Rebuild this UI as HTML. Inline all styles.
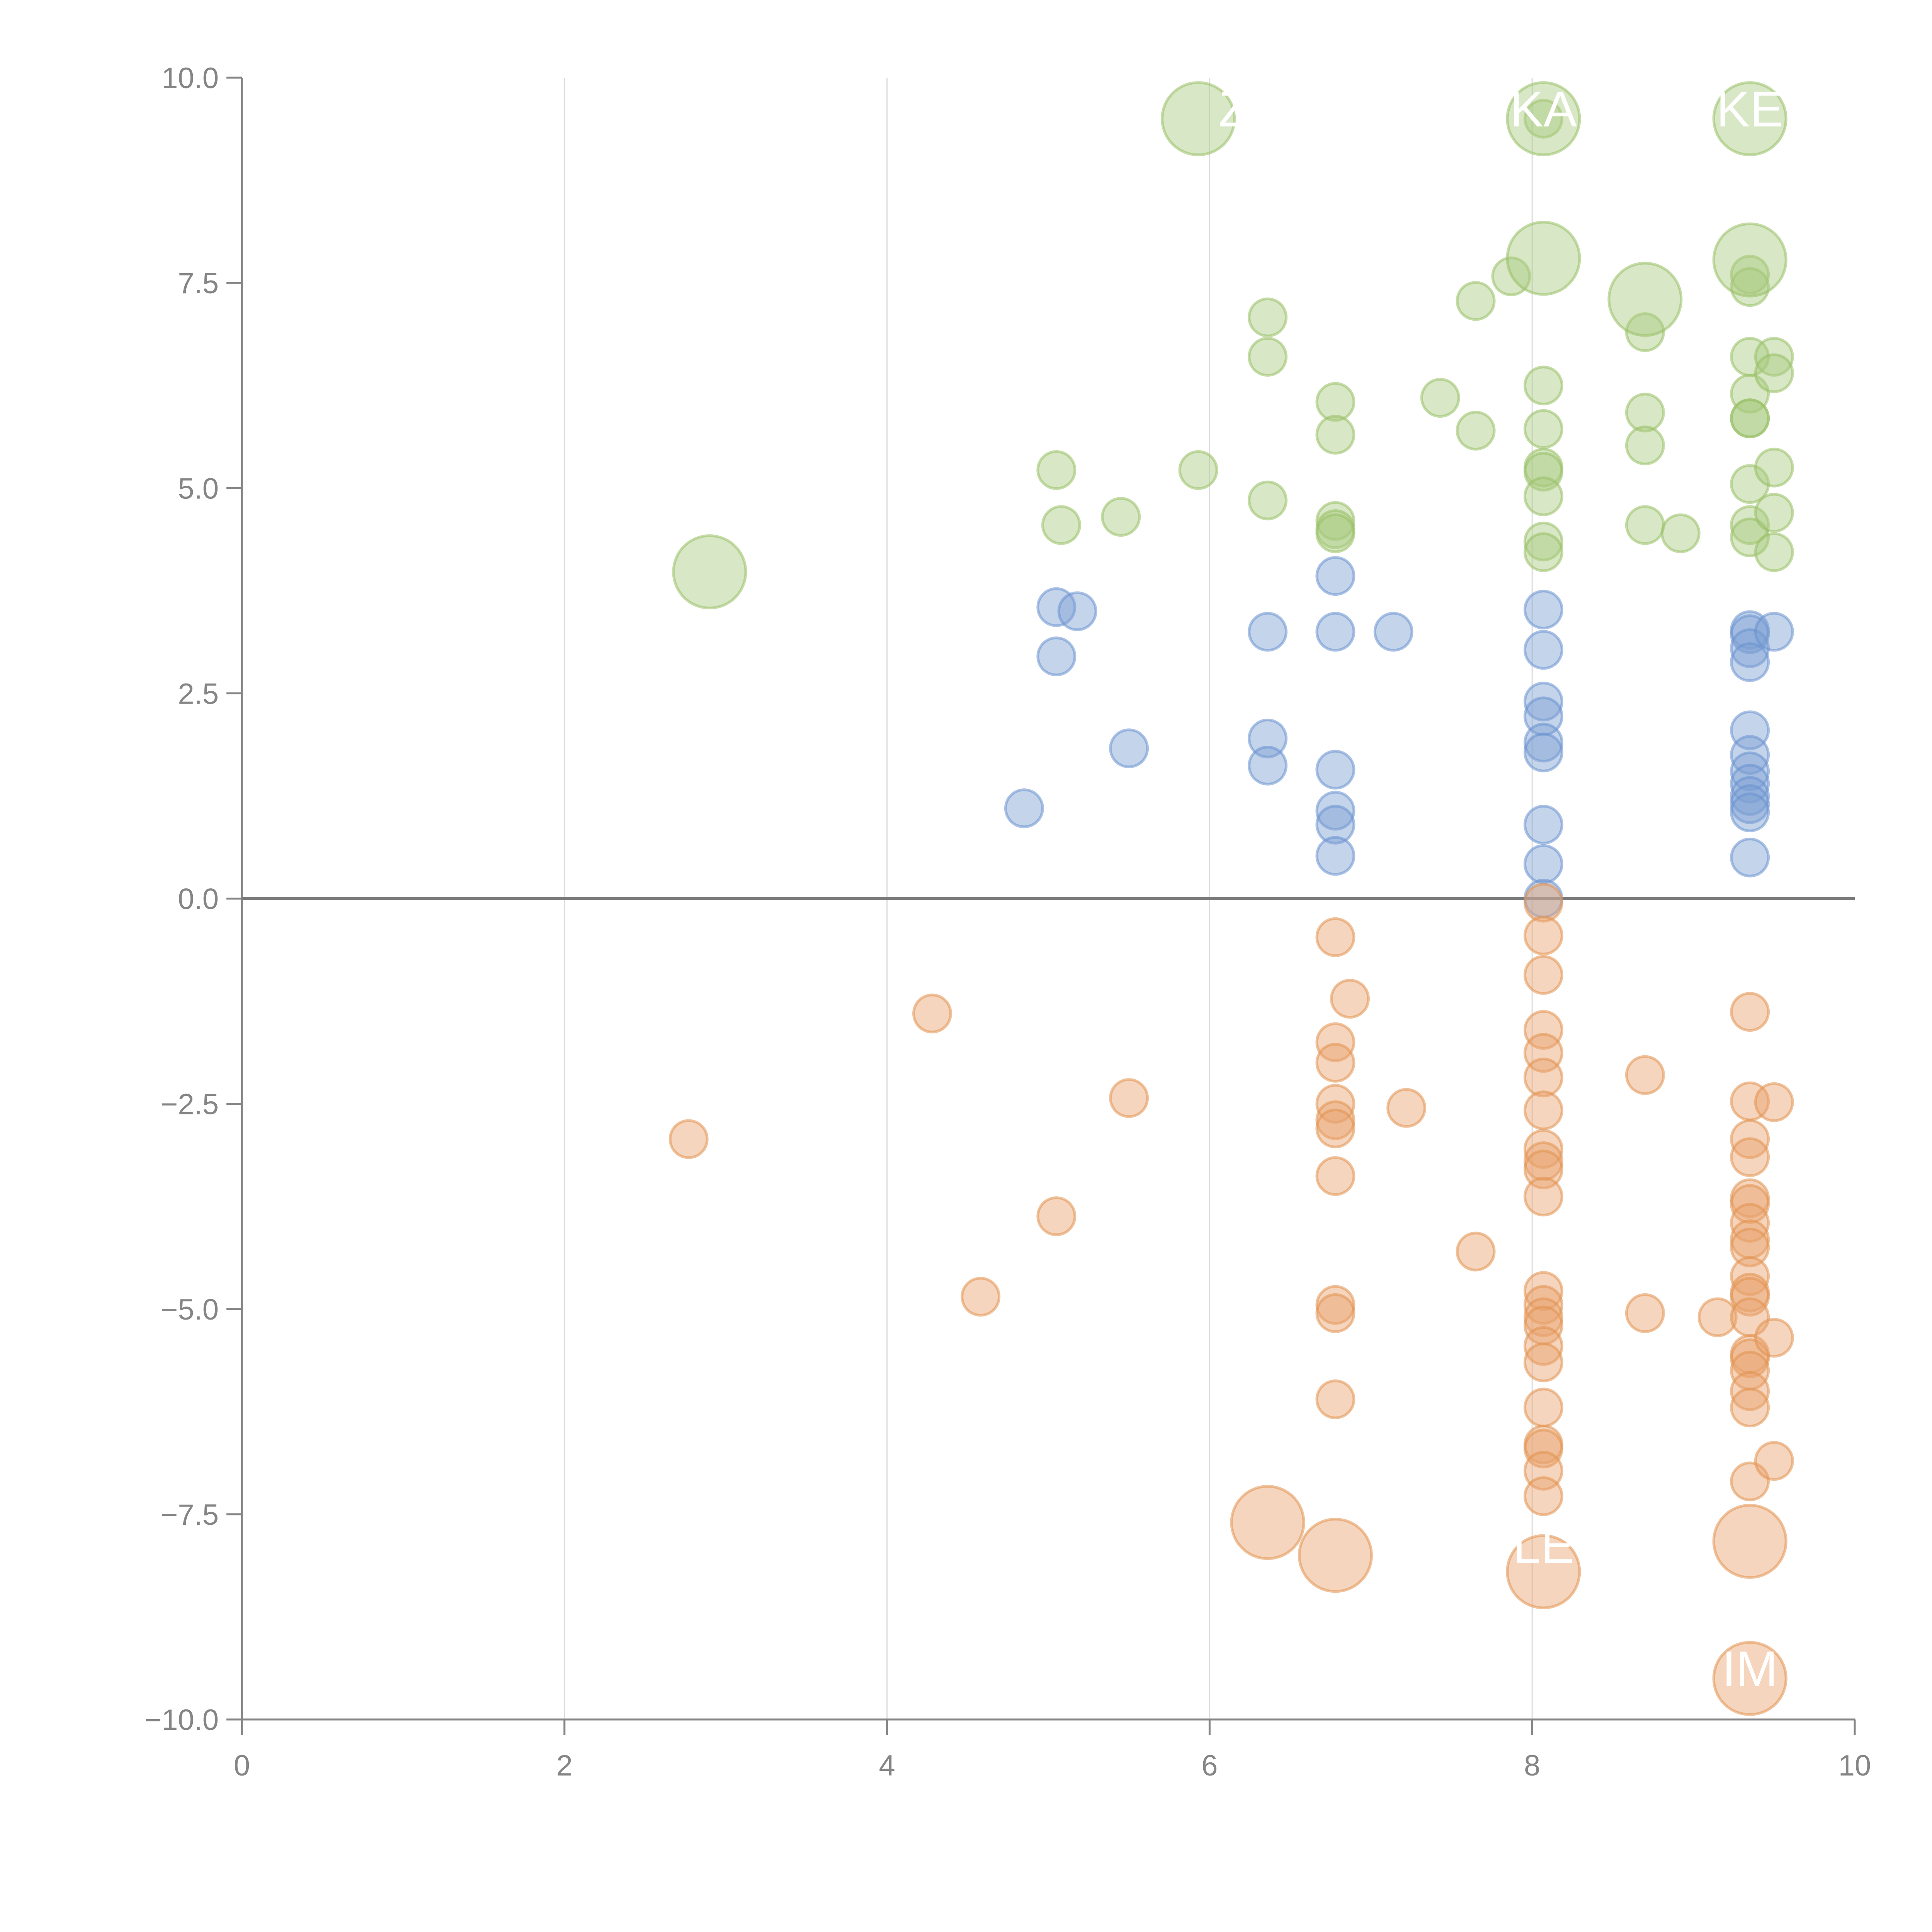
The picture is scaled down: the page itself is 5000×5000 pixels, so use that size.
<!DOCTYPE html>
<html><head><meta charset="utf-8"><style>
html,body{margin:0;padding:0;background:#fff;}
svg{display:block;font-family:"Liberation Sans",Arial,sans-serif;}
</style></head><body>
<svg id="chart" width="5000" height="5000" viewBox="0 0 5000 5000" xmlns="http://www.w3.org/2000/svg">
<g id="grid"></g>
<g id="axes"></g>
<g id="marks"></g>
<g id="labels"></g>
</svg>
<script>
const xTicks = [0,2,4,6,8,10];
const yTicks = [-10,-7.5,-5,-2.5,0,2.5,5,7.5,10];
const yTickLabels = ["\u221210.0","\u22127.5","\u22125.0","\u22122.5","0.0","2.5","5.0","7.5","10.0"];

const greenX = [5.05,5.08,5.45,5.93,6.36,6.36,6.36,6.78,6.78,6.78,6.78,6.78,7.43,7.65,7.65,7.87,8.07,8.07,8.07,8.07,8.07,8.07,8.07,8.07,8.7,8.7,8.7,8.7,8.92,9.35,9.35,9.35,9.35,9.35,9.35,9.35,9.35,9.35,9.5,9.5,9.5,9.5,9.5,2.9,5.93,8.07,8.07,8.7,9.35,9.35];
const greenY = [5.22,4.55,4.65,5.22,7.08,6.6,4.85,6.05,5.65,4.6,4.5,4.45,6.1,7.28,5.7,7.58,9.5,6.25,5.72,5.25,5.2,4.9,4.35,4.22,6.9,5.92,5.52,4.55,4.45,7.6,7.45,6.6,6.15,5.85,5.85,5.05,4.55,4.4,6.6,6.4,5.25,4.7,4.22,3.98,9.5,9.5,7.8,7.3,9.5,7.78];
const greenS = [1,1,1,1,1,1,1,1,1,1,1,1,1,1,1,1,1,1,1,1,1,1,1,1,1,1,1,1,1,1,1,1,1,1,1,1,1,1,1,1,1,1,1,3.8,3.8,3.8,3.8,3.8,3.8,3.8];

const blueX = [4.85,5.05,5.05,5.18,5.5,6.36,6.36,6.36,6.78,6.78,6.78,6.78,6.78,6.78,7.14,8.07,8.07,8.07,8.07,8.07,8.07,8.07,8.07,8.07,9.35,9.35,9.35,9.35,9.35,9.35,9.35,9.35,9.35,9.35,9.35,9.35,9.5];
const blueY = [1.1,3.55,2.95,3.5,1.83,3.25,1.95,1.62,3.93,3.25,1.57,1.07,0.9,0.52,3.25,3.52,3.03,2.4,2.22,1.9,1.78,0.9,0.42,0.0,3.27,3.22,3.05,2.88,2.05,1.75,1.55,1.4,1.25,1.15,1.05,0.5,3.25];
const blueS = blueX.map(()=>1);

const orangeX = [2.77,4.28,4.58,5.05,5.5,6.78,6.87,6.78,6.78,6.78,6.78,6.78,6.78,6.78,6.78,6.78,7.22,7.65,8.07,8.07,8.07,8.07,8.07,8.07,8.07,8.07,8.07,8.07,8.07,8.07,8.07,8.07,8.07,8.07,8.07,8.07,8.07,8.07,8.07,8.07,8.7,8.7,9.15,9.35,9.35,9.35,9.35,9.35,9.35,9.35,9.35,9.35,9.35,9.35,9.35,9.35,9.35,9.35,9.35,9.35,9.35,9.35,9.5,9.5,9.5,6.36,6.78,8.07,9.35,9.35];
const orangeY = [-2.93,-1.4,-4.85,-3.87,-2.43,-0.47,-1.22,-1.75,-2.0,-2.5,-2.7,-2.8,-3.38,-4.95,-5.05,-6.1,-2.55,-4.3,-0.05,-0.45,-0.93,-1.6,-1.88,-2.18,-2.58,-3.05,-3.2,-3.3,-3.63,-4.78,-4.95,-5.1,-5.2,-5.45,-5.65,-6.2,-6.65,-6.7,-6.97,-7.28,-2.15,-5.05,-5.1,-1.38,-2.47,-2.93,-3.15,-3.65,-3.72,-3.95,-4.15,-4.25,-4.6,-4.8,-4.85,-5.1,-5.55,-5.6,-5.75,-6.0,-6.2,-7.1,-2.48,-5.35,-6.85,-7.6,-8.0,-8.2,-7.83,-9.5];
const orangeS = orangeX.map((v,i)=> i>=65 ? 3.8 : 1);

const labelText = ["Z","KA","KE","LE","IM"];
const labelX = [6.15,8.07,9.35,8.07,9.35];
const labelY = [9.5,9.5,9.5,-8.0,-9.5];

const NS="http://www.w3.org/2000/svg";
const L=626,R=4800,T=201,B=4450;
const xS=v=>L+(v-0)/10*(R-L);
const yS=v=>B-(v+10)/20*(B-T);
const rS=s=>48*Math.sqrt(s);
function mk(tag,attrs,parent){const e=document.createElementNS(NS,tag);for(const k in attrs)e.setAttribute(k,attrs[k]);parent.appendChild(e);return e;}

const grid=document.getElementById('grid'),axes=document.getElementById('axes'),marks=document.getElementById('marks'),labels=document.getElementById('labels');
xTicks.forEach(t=>{
  if(t>0&&t<10){const g=mk('line',{x1:xS(t),x2:xS(t),y1:T,y2:B,stroke:'#dcdcdc','stroke-width':3},grid);
  
  }
  const tk=mk('line',{x1:xS(t),x2:xS(t),y1:B,y2:B+40,stroke:'#858585','stroke-width':5},axes);
  
  
  const tx=mk('text',{x:xS(t),y:B+145,'text-anchor':'middle','font-size':76,fill:'#858585'},axes);
  
  
  tx.textContent=String(t);
});
yTicks.forEach((t,i)=>{
  const tk=mk('line',{x1:L-40,x2:L,y1:yS(t),y2:yS(t),stroke:'#858585','stroke-width':5},axes);
  
  
  const tx=mk('text',{x:L-60,y:yS(t)+27,'text-anchor':'end','font-size':76,fill:'#858585'},axes);
  
  
  tx.textContent=yTickLabels[i];
});
const ya=mk('line',{x1:L,x2:L,y1:T,y2:B,stroke:'#858585','stroke-width':5},axes);


const xa=mk('line',{x1:L,x2:R,y1:B,y2:B,stroke:'#858585','stroke-width':5},axes);


const zl=mk('line',{x1:L,x2:R,y1:yS(0),y2:yS(0),stroke:'#7a7a7a','stroke-width':8},axes);



function series(xs,ys,ss,fill,stroke,name){
  xs.forEach((x,i)=>{
    const c=mk('circle',{cx:xS(x),cy:yS(ys[i]),r:rS(ss[i]),fill:fill,'fill-opacity':0.45,stroke:stroke,'stroke-opacity':0.55,'stroke-width':7},marks);
    
    
  });
}
series(greenX,greenY,greenS,'#a9ca7e','#98c064','bubble-positive-high');
series(blueX,blueY,blueS,'#7d9fd3','#6a92cf','bubble-positive-low');
series(orangeX,orangeY,orangeS,'#e9a26c','#e2914f','bubble-negative');
labelText.forEach((s,i)=>{
  const t=mk('text',{x:xS(labelX[i]),y:yS(labelY[i])+20,'text-anchor':'middle','font-size':130,fill:'#ffffff'},labels);
  
  
  t.textContent=s;
});
</script>
</body></html>
